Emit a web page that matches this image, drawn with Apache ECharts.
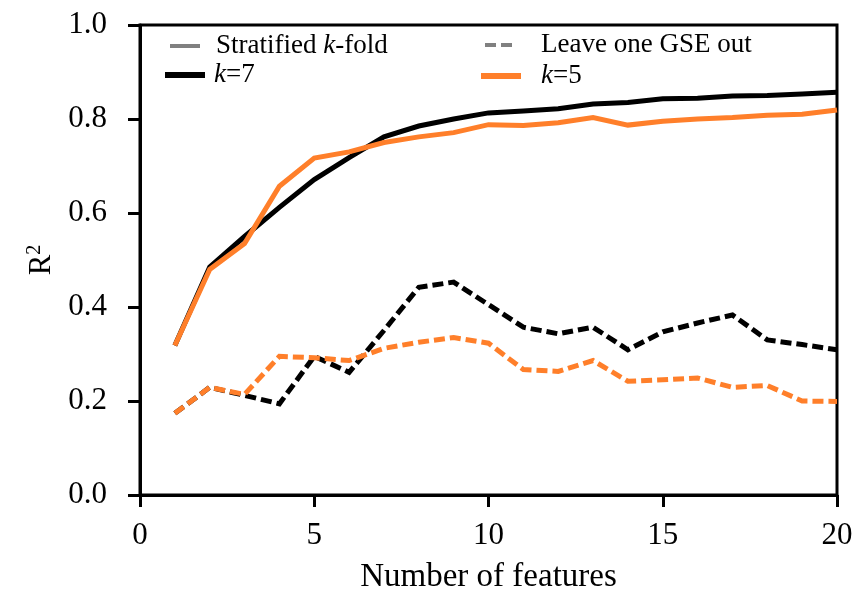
<!DOCTYPE html>
<html>
<head>
<meta charset="utf-8">
<script src="https://cdn.jsdelivr.net/npm/echarts@6/dist/echarts.min.js"></script>
<style>
  html, body { margin: 0; padding: 0; background: #fff; }
  #chart { width: 857px; height: 591px; }
</style>
</head>
<body>
<div id="chart"></div>
<script>
// number of features
const features = [1, 2, 3, 4, 5, 6, 7, 8, 9, 10, 11, 12, 13, 14, 15, 16, 17, 18, 19, 20];

// stratified k-fold
const strat_k7 = [0.318, 0.485, 0.55, 0.612, 0.671, 0.718, 0.762, 0.785, 0.8, 0.813, 0.817, 0.822, 0.832, 0.835, 0.843, 0.844, 0.849, 0.85, 0.853, 0.857];
const strat_k5 = [0.318, 0.48, 0.535, 0.657, 0.717, 0.73, 0.75, 0.762, 0.771, 0.788, 0.786, 0.792, 0.803, 0.787, 0.795, 0.8, 0.803, 0.808, 0.81, 0.819];

// leave one GSE out
const lgo_k7 = [0.174, 0.229, 0.212, 0.194, 0.295, 0.261, 0.35, 0.442, 0.453, 0.405, 0.357, 0.343, 0.357, 0.309, 0.347, 0.366, 0.383, 0.33, 0.32, 0.309];
const lgo_k5 = [0.174, 0.229, 0.214, 0.295, 0.292, 0.286, 0.312, 0.325, 0.335, 0.323, 0.267, 0.263, 0.286, 0.242, 0.245, 0.249, 0.229, 0.233, 0.2, 0.199];

const xTicks = [0, 5, 10, 15, 20];
const yTicks = [0, 0.2, 0.4, 0.6, 0.8, 1.0];

const BLACK = '#000000';
const ORANGE = '#ff7f2a';
const GREY = '#808080';
const FONT = '"Liberation Serif", "DejaVu Serif", serif';

const pairs = ys => features.map((x, i) => [x, ys[i]]);

function line(name, ys, color, dashed, z) {
  return {
    name: name,
    type: 'line',
    data: ys ? pairs(ys) : [],
    symbol: 'none',
    z: z,
    lineStyle: { color: color, width: 5, type: dashed ? [11, 5] : 'solid', cap: 'butt', join: 'miter' },
    itemStyle: { color: color },
    emphasis: { disabled: true },
    animation: false
  };
}

const rich = {
  i: { fontFamily: FONT, fontSize: 27, fontStyle: 'italic', color: '#000', lineHeight: 28 },
  n: { fontFamily: FONT, fontSize: 27, color: '#000', lineHeight: 28 }
};
function legendText(name) {
  if (name === 'Stratified k-fold') return '{n|Stratified }{i|k}{n|-fold}';
  if (name === 'k=7') return '{i|k}{n|=7}';
  if (name === 'k=5') return '{i|k}{n|=5}';
  return '{n|' + name + '}';
}
// one legend per entry, placed like the reference
function legendAt(name, left, centerY, iconW, lineW, textPad) {
  return {
    data: [name],
    left: left,
    top: centerY - 14,
    itemWidth: iconW,
    itemHeight: 28,
    itemGap: 0,
    padding: 0,
    selectedMode: false,
    formatter: legendText,
    itemStyle: { opacity: 0 },
    lineStyle: { width: lineW },
    textStyle: { fontFamily: FONT, fontSize: 27, color: '#000', lineHeight: 28, padding: [0, 0, 0, textPad], rich: rich }
  };
}

const chart = echarts.init(document.getElementById('chart'), null, { renderer: 'canvas' });
chart.setOption({
  backgroundColor: '#fff',
  animation: false,
  grid: {
    left: 140, right: 20, top: 25, bottom: 96,
    outerBoundsMode: 'none', containLabel: false,
    show: true, borderColor: '#000', borderWidth: 3, backgroundColor: 'transparent'
  },
  legend: [
    legendAt('Stratified k-fold', 168, 46, 30, 4, 11),
    legendAt('k=7', 162, 75, 40, 6, 4),
    legendAt('Leave one GSE out', 483, 45, 30, 4, 21),
    legendAt('k=5', 478, 76, 40, 6, 15)
  ],
  xAxis: {
    type: 'value',
    min: xTicks[0],
    max: xTicks[xTicks.length - 1],
    interval: 5,
    name: 'Number of features',
    nameLocation: 'middle',
    nameGap: 66,
    nameTextStyle: { fontFamily: FONT, fontSize: 33, color: '#000' },
    axisLine: { lineStyle: { color: '#000', width: 3 } },
    axisTick: { show: true, length: 12, lineStyle: { color: '#000', width: 3 } },
    axisLabel: { fontFamily: FONT, fontSize: 31, color: '#000', margin: 25 },
    splitLine: { show: false }
  },
  yAxis: {
    type: 'value',
    min: yTicks[0],
    max: yTicks[yTicks.length - 1],
    interval: 0.2,
    name: '{r|R}{s|2}',
    nameLocation: 'middle',
    nameGap: 80,
    nameRotate: 90,
    nameTextStyle: {
      fontFamily: FONT, fontSize: 31, color: '#000',
      rich: {
        r: { fontFamily: FONT, fontSize: 31, color: '#000' },
        s: { fontFamily: FONT, fontSize: 20, color: '#000', verticalAlign: 'top', padding: [0, 0, 14, 0] }
      }
    },
    axisLine: { lineStyle: { color: '#000', width: 3 } },
    axisTick: { show: true, length: 12, lineStyle: { color: '#000', width: 3 } },
    axisLabel: { fontFamily: FONT, fontSize: 31, color: '#000', margin: 33, formatter: v => v.toFixed(1) },
    splitLine: { show: false }
  },
  series: [
    line('Stratified k-fold', null, GREY, false, 1),
    line('Leave one GSE out', null, GREY, true, 1),
    line('k=7', strat_k7, BLACK, false, 2),
    line('k=5', strat_k5, ORANGE, false, 3),
    line('k=7', lgo_k7, BLACK, true, 4),
    line('k=5', lgo_k5, ORANGE, true, 5)
  ]
});
</script>
</body>
</html>
